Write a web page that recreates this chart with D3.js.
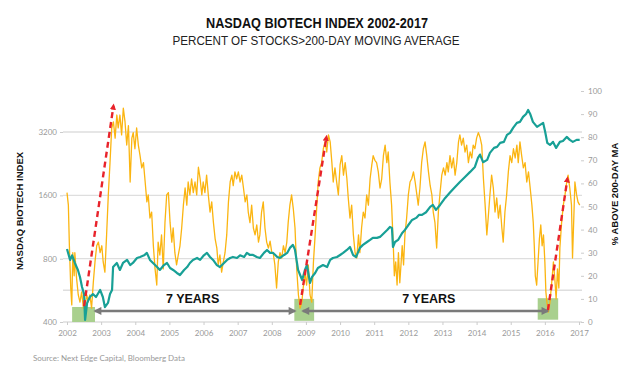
<!DOCTYPE html>
<html lang="en">
<head>
<meta charset="UTF-8">
<title>NASDAQ Biotech Index 2002-2017</title>
<script src="https://d3js.org/d3.v7.min.js"></script>
<style>
  body { margin: 0; background: #fff; }
  svg { display: block; }
  .title { font-family: "Liberation Sans Narrow", "Arial Narrow", "Liberation Sans", sans-serif; fill: #111; }
  .axis-title { font-family: "Liberation Sans", Arial, sans-serif; font-weight: bold; font-size: 9.5px; fill: #111; }
  .axis text { font-family: Lato, "Liberation Sans", sans-serif; font-size: 8px; fill: #999; }
  .axis line { stroke: #ccc; }
</style>
</head>
<body>
<svg id="chart" width="630" height="376"></svg>
<script>
// tick values
const yearTicks = d3.range(2002, 2018);
const leftTicks = [400, 800, 1600, 3200];
const rightTicks = d3.range(0, 101, 10);
const gridValues = [400, 566, 800, 1600, 3200];

// % of stocks above 200-day MA (right axis), [year, pct]
const pctSeries = [
  [2002.00,56],[2002.04,50.6],[2002.07,33],[2002.11,14.7],[2002.14,7.4],[2002.17,30],[2002.21,20],[2002.23,30],
  [2002.28,19],[2002.33,11.7],[2002.38,8.6],[2002.43,13],[2002.48,6],[2002.53,7.4],[2002.58,11.7],[2002.62,8.6],
  [2002.67,11.7],[2002.72,6],[2002.77,17],[2002.82,26],[2002.87,33],[2002.92,34.6],[2002.97,30],[2003.02,33],
  [2003.06,26],[2003.11,21.6],[2003.16,37.7],[2003.21,55],[2003.26,69],[2003.31,84],[2003.36,86.6],[2003.41,79.6],
  [2003.46,89.6],[2003.50,84],[2003.55,89.6],[2003.60,81],[2003.65,92.6],[2003.70,86.6],[2003.75,76.6],[2003.80,85],
  [2003.85,60.6],[2003.90,79.6],[2003.94,82],[2003.99,75],[2004.04,84],[2004.09,76.6],[2004.14,72],[2004.19,66.7],
  [2004.24,69],[2004.29,60.6],[2004.34,52],[2004.38,55],[2004.43,45],[2004.48,47.6],[2004.53,33],[2004.58,23],
  [2004.63,16],[2004.67,34.6],[2004.72,29],[2004.77,37.7],[2004.82,23],[2004.87,43],[2004.92,55],[2004.97,56],
  [2005.02,43],[2005.07,34.6],[2005.11,40.7],[2005.16,30],[2005.21,24.7],[2005.26,29],[2005.31,33],[2005.36,40.7],
  [2005.41,50.6],[2005.46,58],[2005.51,50.6],[2005.55,60.6],[2005.60,55],[2005.65,62],[2005.70,56],[2005.75,60.6],
  [2005.80,55],[2005.85,67],[2005.90,62],[2005.95,55],[2005.99,60.6],[2006.04,56],[2006.09,63.6],[2006.14,55],
  [2006.19,47.6],[2006.24,52],[2006.29,43],[2006.34,36],[2006.39,32],[2006.43,24.7],[2006.48,29],[2006.53,21.6],
  [2006.58,26],[2006.63,30],[2006.68,37.7],[2006.73,52],[2006.78,60.6],[2006.83,63.6],[2006.87,59],[2006.92,65],
  [2006.97,62],[2007.02,65],[2007.07,60.6],[2007.12,63.6],[2007.17,58],[2007.22,52],[2007.27,55],[2007.31,47.6],
  [2007.36,43],[2007.41,50.6],[2007.46,40.7],[2007.51,37.7],[2007.56,42],[2007.61,34.6],[2007.65,37.7],[2007.70,47.6],
  [2007.75,52],[2007.80,40.7],[2007.85,34.6],[2007.90,32],[2007.95,35],[2008.00,30],[2008.04,30],[2008.09,24.7],
  [2008.14,14.7],[2008.19,26],[2008.24,30],[2008.29,27.7],[2008.34,33],[2008.39,30],[2008.44,34.6],[2008.48,43],
  [2008.53,50.6],[2008.58,55],[2008.63,49],[2008.68,40.7],[2008.73,23],[2008.78,11.7],[2008.83,6],[2008.88,8.6],
  [2008.92,14.7],[2008.97,21.6],[2009.02,16],[2009.07,24.7],[2009.12,11.7],[2009.17,8.6],[2009.22,26],[2009.27,37.7],
  [2009.32,50.6],[2009.36,60.6],[2009.41,66.7],[2009.46,69],[2009.51,75],[2009.56,78],[2009.61,73.6],[2009.66,81],
  [2009.71,78],[2009.76,69],[2009.80,60.6],[2009.85,66.7],[2009.90,60.6],[2009.95,55],[2010.00,68],[2010.05,72],
  [2010.10,63.6],[2010.15,69],[2010.20,62],[2010.24,53.7],[2010.29,45],[2010.34,50.6],[2010.39,37.7],[2010.44,30],
  [2010.49,27.7],[2010.54,37.7],[2010.58,30],[2010.63,40.7],[2010.68,47.6],[2010.73,45],[2010.78,55],[2010.83,50.6],
  [2010.88,62],[2010.93,68],[2010.97,72],[2011.02,70],[2011.07,69],[2011.12,65],[2011.17,58],[2011.22,62],
  [2011.27,72],[2011.32,76.6],[2011.37,69],[2011.41,73.6],[2011.46,60.6],[2011.51,50.6],[2011.56,33],[2011.59,20],
  [2011.63,26],[2011.67,16],[2011.71,30],[2011.75,17],[2011.79,26],[2011.82,33],[2011.86,24.7],[2011.90,37.7],
  [2011.95,45],[2012.00,55],[2012.05,60.6],[2012.10,62],[2012.15,65],[2012.20,60.6],[2012.25,55],[2012.29,50.6],
  [2012.34,58],[2012.39,69],[2012.44,75],[2012.49,78],[2012.54,72],[2012.59,65],[2012.64,59],[2012.69,55],
  [2012.73,47.6],[2012.78,43],[2012.83,32],[2012.88,47.6],[2012.93,56],[2012.98,63.6],[2013.03,66.7],[2013.08,63.6],
  [2013.13,69],[2013.17,65],[2013.22,72],[2013.27,66.7],[2013.32,71],[2013.37,63.6],[2013.42,69],[2013.47,78],
  [2013.51,81],[2013.56,76.6],[2013.61,79.6],[2013.66,73.6],[2013.71,76.6],[2013.76,69],[2013.81,73.6],[2013.86,71],
  [2013.90,76.6],[2013.95,75],[2014.00,79.6],[2014.05,82],[2014.10,80],[2014.15,76.6],[2014.20,62],[2014.25,50.6],
  [2014.30,37.7],[2014.34,45],[2014.39,55],[2014.44,63.6],[2014.49,58],[2014.54,47.6],[2014.59,53.7],[2014.64,45],
  [2014.69,50.6],[2014.74,40.7],[2014.78,34.6],[2014.83,47.6],[2014.88,55],[2014.93,65],[2014.98,72],[2015.03,69],
  [2015.08,75],[2015.13,71],[2015.18,76.6],[2015.22,69],[2015.27,78],[2015.32,72],[2015.37,66.7],[2015.42,69],
  [2015.47,60.6],[2015.52,65],[2015.57,58],[2015.62,50.6],[2015.66,43],[2015.69,33],[2015.72,20],[2015.76,16],
  [2015.80,26],[2015.84,36],[2015.88,42],[2015.92,33],[2015.96,37.7],[2016.00,26],[2016.03,13],[2016.06,8.6],
  [2016.10,4.3],[2016.15,8.6],[2016.20,17],[2016.25,26],[2016.29,19],[2016.33,10],[2016.37,23],[2016.41,14.7],
  [2016.44,32],[2016.49,43],[2016.54,50.6],[2016.59,55],[2016.64,60.6],[2016.68,63.6],[2016.73,58],[2016.78,50.6],
  [2016.81,27.7],[2016.85,46],[2016.88,60.6],[2016.93,55],[2016.97,52],[2017.02,50.6]
];

// NASDAQ Biotech Index (left log axis), [year, index]
const nbiSeries = [
  [2002.00,890],[2002.09,789],[2002.15,830],[2002.23,763],[2002.32,707],[2002.38,655],[2002.44,587],[2002.50,543],
  [2002.53,409],[2002.59,493],[2002.67,526],[2002.76,543],[2002.85,526],[2002.97,568],[2003.05,526],[2003.11,471],
  [2003.20,493],[2003.26,543],[2003.32,568],[2003.35,730],[2003.46,763],[2003.55,707],[2003.64,763],[2003.76,789],
  [2003.85,746],[2003.93,763],[2004.05,806],[2004.14,815],[2004.26,830],[2004.34,852],[2004.43,789],[2004.52,763],
  [2004.64,730],[2004.72,707],[2004.84,746],[2004.93,763],[2005.02,722],[2005.11,707],[2005.22,684],[2005.31,669],
  [2005.43,707],[2005.52,730],[2005.60,763],[2005.69,789],[2005.81,806],[2005.90,789],[2006.01,830],[2006.10,852],
  [2006.19,815],[2006.28,789],[2006.39,746],[2006.48,730],[2006.60,763],[2006.69,789],[2006.78,806],[2006.86,815],
  [2006.98,806],[2007.07,830],[2007.19,815],[2007.27,852],[2007.36,833],[2007.45,833],[2007.56,815],[2007.65,806],
  [2007.77,852],[2007.86,880],[2007.95,852],[2008.04,852],[2008.16,815],[2008.24,806],[2008.36,833],[2008.45,852],
  [2008.53,900],[2008.62,930],[2008.68,880],[2008.77,707],[2008.83,669],[2008.89,633],[2008.97,707],[2009.03,746],
  [2009.12,613],[2009.18,655],[2009.27,684],[2009.35,722],[2009.50,746],[2009.62,730],[2009.71,789],[2009.79,806],
  [2009.91,815],[2010.00,833],[2010.09,852],[2010.20,880],[2010.29,909],[2010.38,833],[2010.47,815],[2010.58,900],
  [2010.67,930],[2010.79,960],[2010.88,982],[2010.96,1004],[2011.08,1004],[2011.17,1015],[2011.29,1060],[2011.38,1095],
  [2011.46,1132],[2011.52,1120],[2011.55,909],[2011.61,960],[2011.70,982],[2011.82,1060],[2011.90,1095],[2011.99,1150],
  [2012.11,1222],[2012.23,1250],[2012.31,1291],[2012.40,1291],[2012.52,1330],[2012.64,1409],[2012.72,1440],[2012.81,1364],
  [2012.93,1440],[2013.08,1555],[2013.22,1650],[2013.37,1754],[2013.51,1853],[2013.66,1957],[2013.81,2068],[2013.95,2184],
  [2014.04,2410],[2014.10,2500],[2014.19,2300],[2014.31,2358],[2014.39,2546],[2014.51,2689],[2014.60,2719],[2014.69,2840],
  [2014.80,2872],[2014.89,3100],[2014.98,3169],[2015.07,3348],[2015.18,3536],[2015.27,3575],[2015.36,3775],[2015.45,3900],
  [2015.51,4076],[2015.57,3900],[2015.65,3575],[2015.77,3384],[2015.86,3458],[2015.95,3536],[2016.01,3200],[2016.07,2840],
  [2016.15,2778],[2016.24,2872],[2016.33,2689],[2016.44,2872],[2016.53,2900],[2016.64,3033],[2016.73,2935],[2016.82,2872],
  [2016.93,2935],[2017.02,2935]
];

// annotations in data units (year, pct on right axis)
const greenBoxes = [[2002.15, 2002.82, 0, 6.5], [2008.66, 2009.24, 0.5, 10], [2015.79, 2016.39, 1, 10.3]];
const redArrows = [[2002.50, 6.9, 2003.36, 93.5], [2008.83, 7.4, 2009.60, 80], [2016.09, 5.2, 2016.66, 62]];
const grayArrows = [[2002.82, 2008.68], [2008.91, 2016.09]];
const grayArrowPct = 4.8;
const yearLabels = [2005.68, 2012.60];

const svg = d3.select('#chart');

const x = d3.scaleLinear().domain([2002, 2017]).range([67, 579]);
const yLeft = d3.scaleLog().base(2).domain([400, 3200]).range([322, 132]);
const yRight = d3.scaleLinear().domain([0, 100]).range([322, 91]);

// markers
const defs = svg.append('defs');
defs.append('marker')
    .attr('id', 'gray-head')
    .attr('viewBox', '0 0 10 10')
    .attr('refX', 8).attr('refY', 5)
    .attr('markerWidth', 3.4).attr('markerHeight', 3.2)
    .attr('orient', 'auto-start-reverse')
    .append('path').attr('d', 'M0,0 L10,5 L0,10 z').attr('fill', '#7a7a7a');
defs.append('marker')
    .attr('id', 'red-head')
    .attr('viewBox', '0 0 10 10')
    .attr('refX', 6).attr('refY', 5)
    .attr('markerWidth', 2.6).attr('markerHeight', 2.6)
    .attr('orient', 'auto')
    .append('path').attr('d', 'M0,0 L10,5 L0,10 z').attr('fill', '#e8232b');

// titles (condensed face squeezed to the reference width)
svg.append('text').attr('class', 'title')
    .attr('x', 317).attr('y', 28)
    .attr('text-anchor', 'middle')
    .attr('textLength', 222).attr('lengthAdjust', 'spacingAndGlyphs')
    .style('font-weight', 'bold').style('font-size', '14.5px')
    .text('NASDAQ BIOTECH INDEX 2002-2017');
svg.append('text').attr('class', 'title')
    .attr('x', 316).attr('y', 45)
    .attr('text-anchor', 'middle')
    .attr('textLength', 287).attr('lengthAdjust', 'spacingAndGlyphs')
    .style('font-size', '13.5px').style('fill', '#222')
    .text('PERCENT OF STOCKS>200-DAY MOVING AVERAGE');

// gridlines
svg.append('g').selectAll('line')
    .data(gridValues)
    .join('line')
    .attr('x1', 63).attr('x2', 582)
    .attr('y1', d => yLeft(d)).attr('y2', d => yLeft(d))
    .attr('stroke', '#dedede')
    .attr('stroke-width', 1.4);

// axes
svg.append('g').attr('class', 'axis')
    .attr('transform', 'translate(0,322)')
    .call(d3.axisBottom(x).tickValues(yearTicks).tickFormat(d3.format('d')).tickSize(3).tickSizeOuter(0).tickPadding(5));
svg.append('g').attr('class', 'axis')
    .attr('transform', 'translate(63,0)')
    .call(d3.axisLeft(yLeft).tickValues(leftTicks).tickFormat(d3.format('d')).tickSize(3).tickSizeOuter(0).tickPadding(3));
svg.append('g').attr('class', 'axis')
    .attr('transform', 'translate(581,0)')
    .call(d3.axisRight(yRight).tickValues(rightTicks).tickSize(3).tickSizeOuter(0).tickPadding(4));
svg.selectAll('.axis .domain').remove();

// axis titles
svg.append('text').attr('class', 'axis-title')
    .attr('transform', 'translate(23,211) rotate(-90)')
    .attr('text-anchor', 'middle')
    .text('NASDAQ BIOTECH INDEX');
svg.append('text').attr('class', 'axis-title')
    .attr('transform', 'translate(618,194) rotate(-90)')
    .attr('text-anchor', 'middle')
    .text('% ABOVE 200-DAY MA');

// green boxes at the lows
svg.append('g').selectAll('rect')
    .data(greenBoxes)
    .join('rect')
    .attr('x', d => x(d[0]))
    .attr('width', d => x(d[1]) - x(d[0]))
    .attr('y', d => yRight(d[3]))
    .attr('height', d => yRight(d[2]) - yRight(d[3]))
    .attr('fill', '#a9d08e');

// series
const pctLine = d3.line().x(d => x(d[0])).y(d => yRight(d[1]));
const nbiLine = d3.line().x(d => x(d[0])).y(d => yLeft(d[1]));

svg.append('path')
    .datum(pctSeries)
    .attr('d', pctLine)
    .attr('fill', 'none')
    .attr('stroke', '#fbb511')
    .attr('stroke-width', 1.3)
    .attr('stroke-linejoin', 'round');

svg.append('path')
    .datum(nbiSeries)
    .attr('d', nbiLine)
    .attr('fill', 'none')
    .attr('stroke', '#18a096')
    .attr('stroke-width', 2.2)
    .attr('stroke-linejoin', 'round');

// 7 year arrows
svg.append('g').selectAll('line')
    .data(grayArrows)
    .join('line')
    .attr('x1', d => x(d[0])).attr('x2', d => x(d[1]))
    .attr('y1', yRight(grayArrowPct)).attr('y2', yRight(grayArrowPct))
    .attr('stroke', '#7a7a7a')
    .attr('stroke-width', 2.5)
    .attr('marker-start', 'url(#gray-head)')
    .attr('marker-end', 'url(#gray-head)');

svg.append('g').selectAll('text')
    .data(yearLabels)
    .join('text')
    .attr('x', d => x(d))
    .attr('y', yRight(10) + 4.5)
    .attr('text-anchor', 'middle')
    .style('font-family', '"Liberation Sans", Arial, sans-serif')
    .style('font-weight', 'bold')
    .style('font-size', '12.5px')
    .style('fill', '#111')
    .text('7 YEARS');

// red dashed rally arrows
svg.append('g').selectAll('line')
    .data(redArrows)
    .join('line')
    .attr('x1', d => x(d[0])).attr('y1', d => yRight(d[1]))
    .attr('x2', d => x(d[2])).attr('y2', d => yRight(d[3]))
    .attr('stroke', '#e8232b')
    .attr('stroke-width', 2.4)
    .attr('stroke-dasharray', '6,4')
    .attr('marker-end', 'url(#red-head)');

// source
svg.append('text')
    .attr('x', 33).attr('y', 361)
    .style('font-family', 'Lato, "Liberation Sans", sans-serif')
    .style('font-size', '8px')
    .style('fill', '#999')
    .text('Source: Next Edge Capital, Bloomberg Data');
</script>
</body>
</html>
